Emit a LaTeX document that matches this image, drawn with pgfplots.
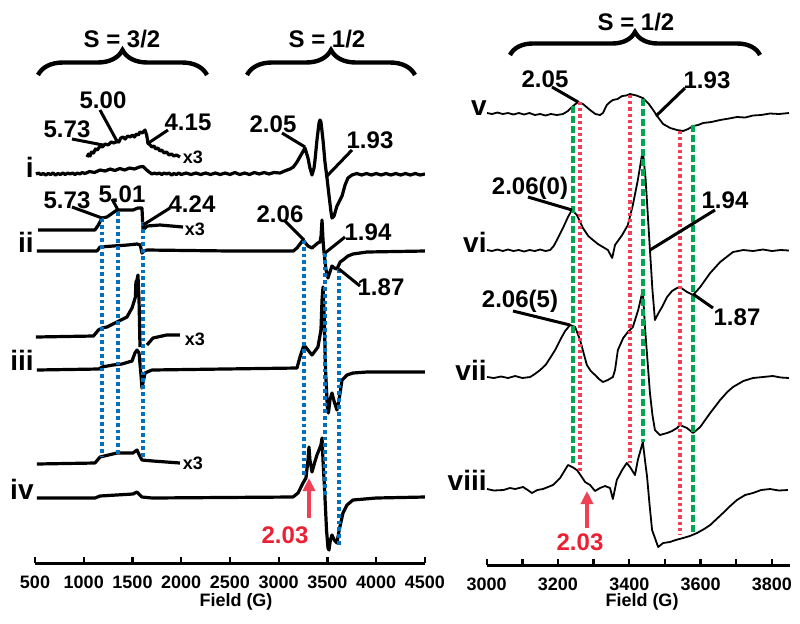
\documentclass[border=0pt]{standalone}
\usepackage{fontspec}
\setmainfont{Liberation Sans}
\usepackage{pgfplots}
\pgfplotsset{compat=1.18}
\usetikzlibrary{decorations.pathreplacing,arrows.meta}

\definecolor{dotblue}{RGB}{0,112,192}
\definecolor{dashgreen}{RGB}{0,166,81}
\definecolor{dotred}{RGB}{239,64,86}
\definecolor{txtred}{RGB}{236,32,50}

% 1 px of the reference = 0.5pt
\pgfplotsset{
  eprax/.style={
    scale only axis,
    anchor=north west,
    axis x line=bottom,
    axis y line=none,
    axis line style={line width=1.5pt,-},
    tick align=inside,
    major tick length=3pt,
    minor tick length=3pt,
    tick style={line width=1.2pt,black},
    xticklabel style={font=\fontsize{9}{10}\selectfont\bfseries, yshift=-3pt},
    /pgf/number format/assume math mode=true,
    /pgf/number format/set thousands separator={},
    scaled x ticks=false,
  },
  trL/.style={black, line width=1.6pt, line join=round},
  trR/.style={black, line width=0.9pt, line join=round},
  bdot/.style={dotblue, line width=1.9pt, dash pattern=on 1.9pt off 1.5pt},
  gdash/.style={dashgreen, line width=1.8pt, dash pattern=on 3.5pt off 1.5pt},
  rdot/.style={dotred, line width=1.8pt, dash pattern=on 1.6pt off 1.5pt},
}

\begin{document}
\begin{tikzpicture}
\path[use as bounding box] (0,0) rectangle (400pt,-311.5pt);

% ---------------- left panel ----------------
\begin{axis}[eprax,
  at={(17.5pt,0pt)}, width=195pt, height=281.5pt,
  xmin=500, xmax=4500, ymin=-563, ymax=0,
  xtick={500,1000,...,4500}]

% i
\addplot[trL] coordinates {(510,-174)(535,-173)(560,-174.5)(585,-173.5)(610,-175)(635,-173.5)(660,-174.5)(685,-173)(710,-175)(735,-173.5)(760,-174.5)(785,-173)(810,-174.5)(835,-173)(860,-174)(885,-173)(910,-174.5)(935,-173)(960,-174)(985,-172.5)(1013,-173.5)(1060,-171.5)(1110,-172.5)(1167,-170)(1220,-171)(1270,-169)(1320,-170.5)(1370,-168.5)(1420,-170)(1470,-168)(1520,-169)(1570,-167)(1608,-166.5)(1640,-169.5)(1670,-172)(1700,-174)(1725,-173)(1750,-174)(1775,-173)(1800,-174.5)(1825,-173)(1850,-174)(1875,-173)(1900,-175)(1925,-173.5)(1950,-174.5)(1975,-173)(2000,-174.5)(2050,-173)(2100,-174.5)(2150,-173)(2200,-174.5)(2250,-173)(2300,-174.5)(2350,-173)(2400,-174.5)(2450,-173)(2500,-174.5)(2550,-172.5)(2600,-174.5)(2650,-173)(2700,-174.5)(2750,-172.5)(2800,-174)(2850,-172.5)(2900,-174)(2950,-172.5)(3013,-173)(3060,-171)(3115,-169)(3150,-167)(3187,-162)(3228,-155)(3269,-148)(3300,-158)(3320,-168)(3341,-175)(3362,-168)(3372,-160)(3392,-140)(3413,-123)(3423,-120)(3433,-122)(3454,-140)(3474,-162)(3495,-178)(3515,-195)(3536,-212)(3546,-218)(3567,-216)(3597,-206)(3649,-196)(3680,-185)(3710,-178)(3751,-175)(3800,-173.5)(3850,-175)(3900,-173.5)(3950,-175)(4000,-173.5)(4050,-175)(4100,-173.5)(4150,-175)(4200,-173.5)(4250,-175)(4300,-173.5)(4350,-175)(4400,-173.5)(4450,-175)(4500,-174)};
\addplot[trL] coordinates {(1033,-157)(1050,-154)(1065,-156)(1080,-152)(1100,-153)(1120,-149)(1140,-150)(1167,-146)(1190,-147)(1220,-144)(1250,-145)(1280,-142)(1310,-143)(1341,-141)(1360,-142)(1380,-138)(1403,-137)(1425,-139)(1450,-136)(1475,-137)(1500,-135)(1520,-137)(1540,-134)(1560,-135)(1577,-132)(1600,-133)(1628,-130)(1645,-135)(1659,-143)(1680,-145)(1700,-147)(1720,-146)(1740,-149)(1760,-148)(1782,-151)(1800,-150)(1825,-153)(1850,-152)(1875,-155)(1900,-154)(1925,-156)(1950,-155)(1987,-157)};

% ii
\addplot[trL] coordinates {(520,-251)(1136,-251)(1167,-247)(1300,-246)(1450,-245)(1546,-244)(1580,-245)(1597,-253)(1620,-251)(1649,-250)(2500,-251)(3150,-251)(3187,-248)(3249,-240)(3300,-246)(3341,-248)(3400,-243)(3423,-242)(3434,-236)(3444,-220)(3454,-240)(3464,-252)(3485,-270)(3505,-278)(3525,-272)(3546,-266)(3570,-268)(3597,-269)(3630,-262)(3659,-260)(3710,-256)(3761,-254)(3905,-252)(4500,-251)};
\addplot[trL] coordinates {(531,-230)(1115,-230)(1150,-225)(1187,-218)(1238,-217)(1341,-210)(1505,-210)(1556,-208)(1597,-208)(1608,-230)(1649,-226)(1782,-225)(1900,-226)(2018,-227)};

% iii
\addplot[trL] coordinates {(510,-337)(1100,-336)(1150,-330)(1187,-328)(1238,-327)(1341,-322)(1443,-317)(1495,-308)(1530,-297)(1535,-282)(1546,-280)(1556,-275)(1567,-300)(1577,-347)};
\addplot[trL] coordinates {(1649,-345)(1710,-338)(1850,-335)(1987,-335)};
\addplot[trL] coordinates {(520,-370)(1156,-369)(1187,-367)(1300,-365)(1392,-364)(1495,-361)(1525,-353)(1546,-350)(1567,-353)(1587,-375)(1597,-388)(1628,-373)(1700,-370)(3187,-368)(3218,-357)(3259,-345)(3300,-350)(3341,-355)(3380,-350)(3402,-347)(3433,-330)(3444,-300)(3454,-287)(3464,-310)(3480,-370)(3500,-410)(3510,-413)(3525,-400)(3546,-393)(3570,-402)(3597,-410)(3618,-400)(3649,-380)(3700,-375)(3761,-373)(3905,-372)(4500,-372)};

% iv
\addplot[trL] coordinates {(520,-464)(1115,-463)(1167,-457)(1341,-453)(1505,-453)(1546,-450)(1570,-455)(1597,-460)(1710,-461)(1987,-463)};
\addplot[trL] coordinates {(520,-498)(1115,-498)(1167,-496)(1505,-494)(1546,-492)(1597,-497)(1700,-498)(3146,-497)(3198,-493)(3249,-483)(3279,-478)(3300,-460)(3310,-447)(3320,-460)(3341,-472)(3370,-462)(3392,-455)(3413,-450)(3433,-445)(3444,-438)(3454,-460)(3474,-497)(3490,-530)(3505,-548)(3515,-550)(3530,-540)(3546,-535)(3570,-540)(3597,-543)(3620,-530)(3659,-513)(3700,-505)(3761,-500)(4000,-498)(4500,-497)};

% marker lines
\addplot[bdot] coordinates {(1187,-218)(1187,-457)};
\addplot[bdot] coordinates {(1351,-212)(1351,-455)};
\addplot[bdot] coordinates {(1608,-222)(1608,-458)};
\addplot[bdot] coordinates {(3259,-240)(3259,-478)};
\addplot[bdot] coordinates {(3474,-253)(3474,-497)};
\addplot[bdot] coordinates {(3618,-269)(3618,-545)};
\end{axis}

% ---------------- right panel ----------------
\begin{axis}[eprax,
  at={(243.35pt,0pt)}, width=151.5pt, height=282.5pt,
  xmin=3000, xmax=3850, ymin=-565, ymax=0,
  xtick={3000,3200,...,3800}, minor xtick={3100,3300,3500,3700}]

% v
\addplot[trR] coordinates {(3001,-113)(3015,-114)(3030,-112.5)(3045,-114)(3060,-113)(3075,-114.5)(3090,-113)(3105,-114.5)(3120,-113)(3135,-115)(3150,-114)(3165,-115.5)(3180,-114)(3197,-115)(3214,-114)(3228,-111)(3239,-107)(3256,-102)(3270,-104)(3290,-110)(3305,-114)(3318,-115)(3326,-113)(3337,-105)(3346,-102)(3354,-100)(3367,-99)(3380,-96)(3392,-95.5)(3402,-94)(3420,-95.5)(3438,-98)(3455,-104)(3467,-110)(3478,-116)(3495,-124)(3515,-128)(3534,-130)(3551,-131)(3565,-129)(3579,-126)(3593,-125)(3607,-123)(3630,-122)(3655,-120)(3680,-118.5)(3702,-117)(3725,-117.5)(3747,-115.5)(3770,-115)(3795,-113.5)(3820,-114)(3848,-113)};
% vi
\addplot[trR] coordinates {(3001,-250)(3015,-251)(3030,-249.5)(3045,-251)(3060,-249.5)(3075,-251)(3090,-250)(3105,-251.5)(3120,-250)(3135,-251)(3150,-249.5)(3165,-251)(3178,-250)(3188,-246)(3197,-240)(3214,-228)(3228,-217)(3239,-210)(3253,-215)(3270,-228)(3285,-236)(3298,-240)(3312,-244)(3326,-247)(3340,-250)(3352,-258)(3360,-245)(3380,-235)(3396,-225)(3410,-205)(3424,-180)(3438,-150)(3446,-180)(3452,-215)(3458,-250)(3465,-290)(3472,-320)(3482,-313)(3492,-307)(3506,-297)(3520,-291)(3534,-288)(3542,-287)(3562,-292)(3579,-295)(3599,-287)(3627,-273)(3655,-262)(3691,-252)(3720,-250)(3747,-251)(3775,-249.5)(3800,-251)(3825,-250)(3848,-250.5)};
% vii
\addplot[trR] coordinates {(3001,-377)(3020,-378)(3040,-376.5)(3060,-378)(3080,-376)(3100,-378)(3122,-377)(3135,-374)(3150,-370)(3165,-365)(3178,-358)(3192,-350)(3206,-340)(3220,-331)(3234,-325)(3248,-327)(3262,-340)(3281,-365)(3292,-371)(3304,-375)(3315,-379)(3326,-382)(3340,-380)(3354,-377)(3360,-370)(3368,-350)(3383,-338)(3396,-332)(3410,-327)(3425,-310)(3438,-290)(3444,-327)(3451,-360)(3458,-393)(3465,-415)(3472,-430)(3486,-435)(3506,-433)(3520,-431)(3534,-428)(3542,-425)(3562,-428)(3579,-433)(3599,-427)(3627,-413)(3655,-400)(3675,-392)(3691,-387)(3720,-381)(3747,-378)(3775,-377)(3803,-376)(3825,-377.5)(3848,-378)};
% viii
\addplot[trR] coordinates {(3001,-489)(3020,-490.5)(3047,-490)(3065,-488)(3080,-489)(3102,-487)(3115,-490)(3127,-493)(3142,-490)(3158,-489)(3172,-487)(3186,-485)(3206,-478)(3228,-465)(3240,-467)(3253,-470)(3265,-476)(3276,-482)(3290,-485)(3304,-491)(3318,-488)(3332,-486)(3346,-488)(3354,-499)(3365,-480)(3380,-470)(3393,-463)(3402,-467)(3416,-475)(3424,-460)(3438,-442)(3444,-460)(3450,-477)(3457,-505)(3464,-530)(3481,-547)(3495,-543)(3514,-542)(3530,-540)(3551,-538)(3570,-536)(3590,-533)(3610,-529)(3627,-525)(3645,-519)(3663,-513)(3680,-507)(3702,-500)(3725,-495)(3747,-493)(3770,-490)(3795,-489)(3820,-490.5)(3845,-490)};

\addplot[gdash] coordinates {(3242,-106)(3242,-465)};
\addplot[rdot] coordinates {(3262,-102)(3262,-472)};
\addplot[rdot] coordinates {(3402,-95)(3402,-463)};
\addplot[gdash] coordinates {(3438,-99)(3438,-442)};
\addplot[rdot] coordinates {(3542,-131)(3542,-535)};
\addplot[gdash] coordinates {(3579,-125)(3579,-533)};
\end{axis}

% ---------------- annotations (pixel coordinates) ----------------
\begin{scope}[x=0.5pt, y=-0.5pt]
\tikzset{lab/.style={anchor=base, inner sep=0pt, font=\fontsize{12}{14}\selectfont\bfseries},
         num/.style={anchor=base east, inner sep=0pt, font=\fontsize{14}{16}\selectfont\bfseries},
         xth/.style={anchor=base, inner sep=0pt, font=\fontsize{9}{10}\selectfont\bfseries},
         ld/.style={line width=1.5pt}}
% braces
\draw[decorate, decoration={brace, amplitude=12.5pt}, line width=2.2pt] (38,75) -- (207,75);
\draw[decorate, decoration={brace, amplitude=12.5pt}, line width=2.2pt] (247,75) -- (415,75);
\draw[decorate, decoration={brace, amplitude=11.5pt}, line width=2.2pt] (510,55) -- (760,55);
\node[lab] at (122,47) {S = 3/2};
\node[lab] at (327,47) {S = 1/2};
\node[lab] at (636,30) {S = 1/2};

% spectrum numbers
\node[num] at (34,177) {i};
\node[num] at (34,252) {ii};
\node[num] at (34,370) {iii};
\node[num] at (34,499) {iv};
\node[num] at (487,115) {v};
\node[num] at (487,252) {vi};
\node[num] at (487,380) {vii};
\node[num] at (487,490) {viii};

% x3
\node[xth] at (193,163) {x3};
\node[xth] at (195,235) {x3};
\node[xth] at (195,345) {x3};
\node[xth] at (193,469) {x3};

% g values, left
\node[lab] at (103,108) {5.00};  \draw[ld] (100,110) -- (118,143);
\node[lab] at (67,137) {5.73};   \draw[ld] (72,139) -- (103,145);
\node[lab] at (188,130) {4.15};  \draw[ld] (168,130) -- (147,144);
\node[lab] at (273,132) {2.05};  \draw[ld] (282,133) -- (305,147);
\node[lab] at (370,148) {1.93};  \draw[ld] (352,150) -- (327,176);
\node[lab] at (67,208) {5.73};   \draw[ld] (72,207) -- (102,218);
\node[lab] at (122,202) {5.01};  \draw[ld] (112,199) -- (118,210);
\node[lab] at (192,212) {4.24};  \draw[ld] (170,208) -- (143,225);
\node[lab] at (280,222) {2.06};  \draw[ld] (285,221) -- (304,240);
\node[lab] at (368,240) {1.94};  \draw[ld] (345,237) -- (325,253);
\node[lab] at (381,295) {1.87};  \draw[ld] (360,286) -- (339,269);
\node[lab, text=txtred] at (285,543) {2.03};
\draw[dotred, line width=1.8pt, -{Triangle[width=6pt,length=6.5pt]}] (309,518) -- (309,478);

% g values, right
\node[lab] at (545,87) {2.05};     \draw[ld] (552,87) -- (578,102);
\node[lab] at (707,88) {1.93};     \draw[ld] (685,88) -- (656,116);
\node[lab] at (530,194) {2.06(0)}; \draw[ld] (528,197) -- (572,210);
\node[lab] at (725,208) {1.94};    \draw[ld] (715,210) -- (650,250);
\node[lab] at (520,307) {2.06(5)}; \draw[ld] (513,311) -- (570,325);
\node[lab] at (737,325) {1.87};    \draw[ld] (713,308) -- (693,294);
\node[lab, text=txtred] at (580,550) {2.03};
\draw[dotred, line width=1.8pt, -{Triangle[width=6pt,length=6.5pt]}] (587,528) -- (587,491);

% axis titles
\node[anchor=base, inner sep=0pt, font=\fontsize{9}{10}\selectfont\bfseries] at (236,606) {Field (G)};
\node[anchor=base, inner sep=0pt, font=\fontsize{9}{10}\selectfont\bfseries] at (642,606) {Field (G)};
\end{scope}
\end{tikzpicture}
\end{document}
